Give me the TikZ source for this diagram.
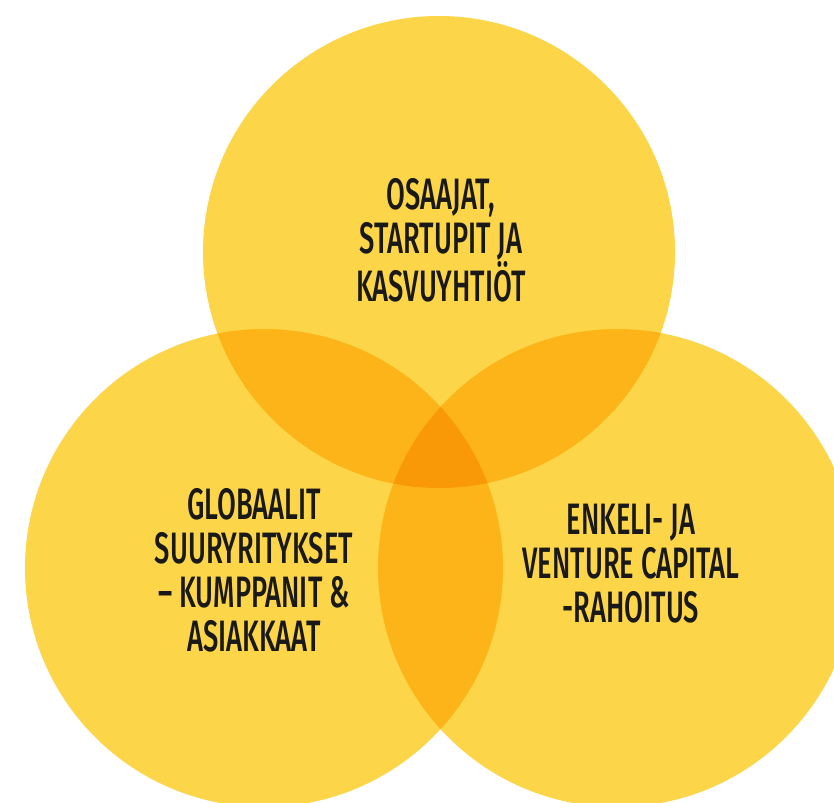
\documentclass[tikz,border=0pt]{standalone}
\usepackage{fontspec}
\IfFontExistsTF{Fira Sans Medium}
  {\newfontfamily\lblfont{Fira Sans Medium}}
  {\newfontfamily\lblfont{Fira Sans}}
\begin{document}
\begin{tikzpicture}[x=1pt,y=-1pt,
  lbl/.style={align=center,inner sep=0pt,xscale=0.62,text=black!90,
    font=\lblfont\fontsize{44}{44}\selectfont}]
\definecolor{base}{RGB}{253,213,72}
\definecolor{pair}{RGB}{252,180,24}
\definecolor{trip}{RGB}{250,153,8}
\useasboundingbox (0,0) rectangle (834,802);
\fill[white] (0,0) rectangle (834,802);
\clip (0,0) rectangle (834,802);
\coordinate (cT) at (439,252);
\coordinate (cL) at (264,568);
\coordinate (cR) at (617,568);
\def\rT{236}
\def\rL{239}
\def\rR{239}
\fill[base] (cT) circle (\rT);
\fill[base] (cL) circle (\rL);
\fill[base] (cR) circle (\rR);
\begin{scope}
  \clip (cT) circle (\rT);
  \fill[pair] (cL) circle (\rL);
  \fill[pair] (cR) circle (\rR);
\end{scope}
\begin{scope}
  \clip (cL) circle (\rL);
  \fill[pair] (cR) circle (\rR);
  \clip (cR) circle (\rR);
  \fill[trip] (cT) circle (\rT);
\end{scope}
\node[lbl] (tT) at (441,240) {OSAAJAT,\\STARTUPIT JA\\KASVUYHTIÖT};
\node[lbl] (tL) at (254,570) {GLOBAALIT\\SUURYRITYKSET\\– KUMPPANIT \&\\ASIAKKAAT};
\node[lbl] (tR) at (631,564) {ENKELI- JA\\VENTURE CAPITAL\\-RAHOITUS};
\end{tikzpicture}
\end{document}
